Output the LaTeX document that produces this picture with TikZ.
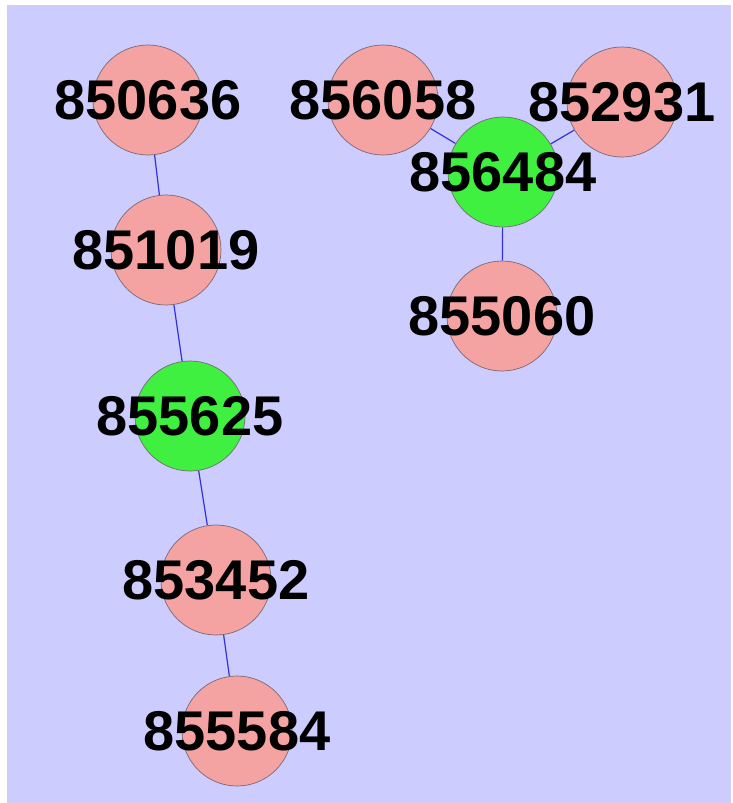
\documentclass[tikz,border=0pt]{standalone}
\usepackage{fontspec}
\setmainfont{Liberation Sans}
\usepackage{tikz}
\usetikzlibrary{backgrounds}

\definecolor{canvas}{RGB}{204,204,255}
\definecolor{pinkgene}{RGB}{245,162,162}
\definecolor{greengene}{RGB}{64,240,64}
\definecolor{rim}{RGB}{120,105,115}
\definecolor{linkblue}{RGB}{50,50,215}

\begin{document}
\begin{tikzpicture}[
    x=1pt, y=-1pt,
    gene/.style={circle, draw=rim, line width=0.7pt, minimum size=110pt, inner sep=0pt, fill=pinkgene,
                 font=\bfseries\fontsize{56}{56}\selectfont},
    hub/.style={gene, fill=greengene},
    link/.style={draw=linkblue, line width=1.2pt}
]
\useasboundingbox (0,0) rectangle (732,803);

% hubs first, so the leaves' labels stay on top
\node[hub] (n855625) at (190,416) {\makebox[0pt]{855625}};
\node[hub] (n856484) at (503,172) {\makebox[0pt]{856484}};

\node[gene] (n850636) at (148,100) {\makebox[0pt]{850636}};
\node[gene] (n851019) at (166,250) {\makebox[0pt]{851019}};
\node[gene] (n853452) at (216,580) {\makebox[0pt]{853452}};
\node[gene] (n855584) at (237,731) {\makebox[0pt]{855584}};
\node[gene] (n856058) at (383,100) {\makebox[0pt]{856058}};
\node[gene] (n852931) at (622,102) {\makebox[0pt]{852931}};
\node[gene] (n855060) at (502,316) {\makebox[0pt]{855060}};

\begin{scope}[on background layer]
\fill[canvas] (7,5) rectangle (731,803);
\draw[link] (n850636) -- (n851019);
\draw[link] (n851019) -- (n855625);
\draw[link] (n855625) -- (n853452);
\draw[link] (n853452) -- (n855584);
\draw[link] (n856484) -- (n856058);
\draw[link] (n856484) -- (n852931);
\draw[link] (n856484) -- (n855060);
\end{scope}
\end{tikzpicture}
\end{document}
